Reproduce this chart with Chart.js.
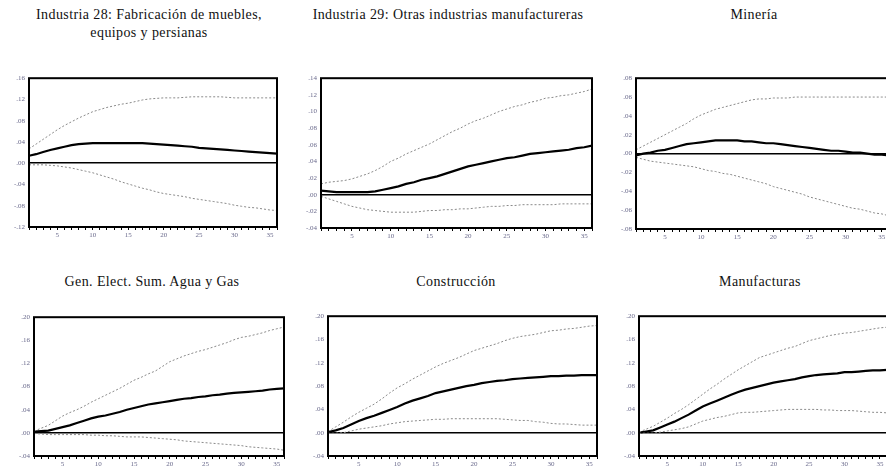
<!DOCTYPE html>
<html><head><meta charset="utf-8">
<script src="https://cdn.jsdelivr.net/npm/chart.js@4"></script>
<style>
html,body{margin:0;padding:0;background:#fff;width:886px;height:468px;overflow:hidden;position:relative}
canvas{position:absolute}
.t{position:absolute;font-family:"Liberation Serif","Times New Roman",serif;font-size:14px;letter-spacing:0.4px;color:#111;text-align:center;white-space:nowrap;line-height:18px;transform:translateX(-50%)}
</style></head><body>
<script>
// ---------- DATA ----------
const periods = [1,2,3,4,5,6,7,8,9,10,11,12,13,14,15,16,17,18,19,20,21,22,23,24,25,26,27,28,29,30,31,32,33,34,35,36];
const panelTitles = [
  ["Industria 28: Fabricación de muebles,", "equipos y persianas"],
  ["Industria 29: Otras industrias manufactureras"],
  ["Minería"],
  ["Gen. Elect. Sum. Agua y Gas"],
  ["Construcción"],
  ["Manufacturas"]
];
// y-axis ranges [min, max, step]
const yMins  = [-0.12, -0.04, -0.08, -0.04, -0.04, -0.04];
const yMaxs  = [ 0.16,  0.14,  0.08,  0.20,  0.20,  0.20];
const ySteps = [ 0.04,  0.02,  0.02,  0.04,  0.04,  0.04];
const xTickLabels = [5,10,15,20,25,30,35];

const ind28Mean  = [0.014,0.017,0.021,0.025,0.028,0.031,0.034,0.036,0.037,0.038,0.038,0.038,0.038,0.038,0.038,0.038,0.038,0.037,0.036,0.035,0.034,0.033,0.032,0.031,0.029,0.028,0.027,0.026,0.025,0.024,0.023,0.022,0.021,0.020,0.019,0.018];
const ind28Upper = [0.027,0.036,0.045,0.054,0.063,0.071,0.078,0.085,0.091,0.097,0.101,0.105,0.108,0.111,0.113,0.116,0.119,0.121,0.122,0.123,0.123,0.123,0.124,0.125,0.125,0.125,0.125,0.125,0.124,0.123,0.123,0.123,0.123,0.123,0.123,0.123];
const ind28Lower = [-0.003,-0.003,-0.003,-0.004,-0.005,-0.007,-0.009,-0.012,-0.015,-0.018,-0.022,-0.026,-0.030,-0.035,-0.039,-0.043,-0.047,-0.050,-0.054,-0.057,-0.059,-0.061,-0.063,-0.066,-0.068,-0.070,-0.072,-0.074,-0.076,-0.079,-0.081,-0.083,-0.084,-0.086,-0.088,-0.089];

const ind29Mean  = [0.005,0.004,0.003,0.003,0.003,0.003,0.003,0.004,0.006,0.008,0.010,0.013,0.015,0.018,0.020,0.022,0.025,0.028,0.031,0.034,0.036,0.038,0.040,0.042,0.044,0.045,0.047,0.049,0.050,0.051,0.052,0.053,0.054,0.056,0.057,0.059];
const ind29Upper = [0.013,0.015,0.016,0.017,0.019,0.022,0.025,0.029,0.034,0.040,0.044,0.049,0.053,0.057,0.061,0.066,0.071,0.076,0.080,0.085,0.089,0.092,0.096,0.100,0.103,0.106,0.108,0.111,0.113,0.116,0.117,0.119,0.120,0.122,0.124,0.127];
const ind29Lower = [-0.002,-0.005,-0.008,-0.011,-0.014,-0.016,-0.018,-0.019,-0.020,-0.021,-0.021,-0.021,-0.021,-0.020,-0.019,-0.019,-0.018,-0.018,-0.017,-0.017,-0.016,-0.015,-0.014,-0.014,-0.013,-0.013,-0.012,-0.012,-0.012,-0.012,-0.012,-0.011,-0.011,-0.011,-0.011,-0.011];

const mineriaMean  = [-0.002,0.000,0.001,0.003,0.004,0.006,0.008,0.010,0.011,0.012,0.013,0.014,0.014,0.014,0.014,0.013,0.013,0.012,0.011,0.011,0.010,0.009,0.008,0.007,0.006,0.005,0.004,0.003,0.003,0.002,0.001,0.001,0.000,-0.001,-0.001,-0.002];
const mineriaUpper = [0.004,0.008,0.012,0.016,0.020,0.024,0.028,0.032,0.037,0.041,0.044,0.047,0.049,0.051,0.053,0.055,0.057,0.058,0.058,0.059,0.059,0.059,0.060,0.060,0.060,0.060,0.060,0.060,0.060,0.060,0.060,0.060,0.060,0.060,0.060,0.060];
const mineriaLower = [-0.004,-0.006,-0.008,-0.009,-0.010,-0.011,-0.012,-0.013,-0.014,-0.016,-0.018,-0.019,-0.021,-0.022,-0.024,-0.026,-0.028,-0.030,-0.032,-0.035,-0.037,-0.039,-0.041,-0.043,-0.046,-0.048,-0.050,-0.052,-0.054,-0.056,-0.058,-0.059,-0.061,-0.063,-0.064,-0.066];

const electMean  = [0.002,0.003,0.004,0.007,0.010,0.013,0.017,0.021,0.025,0.028,0.030,0.033,0.036,0.040,0.043,0.046,0.049,0.051,0.053,0.055,0.057,0.059,0.060,0.062,0.063,0.065,0.066,0.068,0.069,0.070,0.071,0.072,0.073,0.075,0.076,0.077];
const electUpper = [0.003,0.008,0.013,0.021,0.029,0.035,0.040,0.046,0.053,0.059,0.065,0.071,0.077,0.084,0.091,0.096,0.102,0.107,0.115,0.123,0.128,0.133,0.137,0.141,0.144,0.148,0.152,0.156,0.161,0.165,0.167,0.170,0.173,0.177,0.180,0.183];
const electLower = [-0.001,-0.002,-0.003,-0.003,-0.003,-0.003,-0.003,-0.003,-0.004,-0.004,-0.005,-0.005,-0.006,-0.007,-0.007,-0.007,-0.008,-0.009,-0.010,-0.011,-0.012,-0.014,-0.015,-0.016,-0.017,-0.018,-0.019,-0.020,-0.021,-0.022,-0.024,-0.025,-0.026,-0.027,-0.028,-0.030];

const construMean  = [0.001,0.004,0.008,0.014,0.020,0.025,0.029,0.034,0.039,0.044,0.050,0.055,0.059,0.063,0.068,0.071,0.074,0.077,0.080,0.082,0.085,0.087,0.089,0.090,0.092,0.093,0.094,0.095,0.096,0.097,0.097,0.098,0.098,0.099,0.099,0.099];
const construUpper = [0.002,0.010,0.018,0.027,0.035,0.042,0.049,0.058,0.068,0.077,0.084,0.092,0.099,0.106,0.113,0.119,0.124,0.129,0.135,0.141,0.145,0.149,0.153,0.158,0.162,0.165,0.167,0.169,0.172,0.175,0.176,0.178,0.179,0.181,0.183,0.184];
const construLower = [-0.001,-0.001,0.000,0.003,0.006,0.008,0.010,0.012,0.015,0.017,0.019,0.020,0.021,0.022,0.023,0.023,0.024,0.024,0.024,0.024,0.024,0.024,0.024,0.023,0.022,0.021,0.021,0.019,0.018,0.016,0.015,0.015,0.014,0.013,0.013,0.013];

const manufMean  = [0.000,0.002,0.004,0.009,0.014,0.019,0.025,0.031,0.038,0.045,0.050,0.055,0.060,0.065,0.070,0.074,0.077,0.080,0.083,0.086,0.088,0.090,0.092,0.095,0.097,0.099,0.100,0.101,0.102,0.104,0.104,0.105,0.106,0.107,0.107,0.108];
const manufUpper = [0.001,0.006,0.011,0.018,0.025,0.033,0.040,0.048,0.057,0.066,0.075,0.083,0.092,0.100,0.108,0.115,0.122,0.129,0.133,0.137,0.141,0.145,0.148,0.153,0.158,0.161,0.164,0.167,0.169,0.171,0.172,0.174,0.176,0.178,0.180,0.181];
const manufLower = [-0.001,-0.001,-0.001,0.001,0.003,0.005,0.007,0.010,0.015,0.020,0.023,0.026,0.028,0.031,0.034,0.035,0.035,0.036,0.037,0.038,0.039,0.040,0.040,0.040,0.040,0.040,0.039,0.039,0.038,0.038,0.038,0.037,0.036,0.035,0.035,0.034];

const panelSeries = [
  [ind28Mean, ind28Upper, ind28Lower],
  [ind29Mean, ind29Upper, ind29Lower],
  [mineriaMean, mineriaUpper, mineriaLower],
  [electMean, electUpper, electLower],
  [construMean, construUpper, construLower],
  [manufMean, manufUpper, manufLower]
];

// ---------- LAYOUT ----------
const plotBoxes = [
  {l:29, t:73, r:277, b:227},
  {l:321,t:73, r:592, b:228},
  {l:636,t:73, r:889, b:229},
  {l:34, t:312,r:284, b:456},
  {l:328,t:311,r:597, b:456},
  {l:639,t:311,r:887, b:456}
];
const titlePos = [
  {x:149,y:6},{x:448,y:6},{x:754,y:6},
  {x:152,y:273},{x:456,y:273},{x:760,y:273}
];
const Y_AXIS_W = 28, X_AXIS_H = 14, PAD = 3;

function fmt(v){
  const s = Math.abs(v).toFixed(2).replace(/^0/, '');
  return (v < -1e-9 ? '-' : '') + s;
}

const framePlugin = {
  id:'frame',
  afterDatasetsDraw(chart){
    const {ctx, chartArea:a} = chart;
    ctx.save();
    ctx.strokeStyle = '#000';
    ctx.lineWidth = 2;
    ctx.strokeRect(a.left, a.top, a.right - a.left, a.bottom - a.top);
    ctx.restore();
  }
};

panelTitles.forEach((lines, i) => {
  const d = document.createElement('div');
  d.className = 't';
  d.style.left = titlePos[i].x + 'px';
  d.style.top = titlePos[i].y + 'px';
  d.innerHTML = lines.join('<br>');
  document.body.appendChild(d);
});

panelSeries.forEach((series, i) => {
  const b = plotBoxes[i];
  const c = document.createElement('canvas');
  const w = (b.r - b.l) + Y_AXIS_W + PAD;
  const h = (b.b - b.t) + X_AXIS_H + PAD;
  c.width = w; c.height = h;
  c.style.left = (b.l - Y_AXIS_W) + 'px';
  c.style.top = (b.t - PAD) + 'px';
  c.style.width = w + 'px'; c.style.height = h + 'px';
  document.body.appendChild(c);
  const mk = arr => periods.map((p, k) => ({x:p, y:arr[k]}));
  new Chart(c, {
    type:'line',
    data:{ datasets:[
      {data:mk(series[1]), borderColor:'#8a8a8a', borderWidth:1, borderDash:[2,2], pointRadius:0, tension:0},
      {data:mk(series[2]), borderColor:'#8a8a8a', borderWidth:1, borderDash:[2,2], pointRadius:0, tension:0},
      {data:mk(series[0]), borderColor:'#000', borderWidth:2.2, pointRadius:0, tension:0}
    ]},
    options:{
      responsive:false, animation:false, devicePixelRatio:1,
      layout:{padding:{top:PAD, right:PAD, left:0, bottom:0}},
      plugins:{legend:{display:false}, tooltip:{enabled:false}, title:{display:false}},
      scales:{
        x:{
          type:'linear', min:1, max:36,
          afterFit(s){ s.height = X_AXIS_H; },
          afterBuildTicks(s){ s.ticks = periods.map(v => ({value:v})); },
          ticks:{autoSkip:false, maxRotation:0, padding:1, color:'#6a6a8c',
            font:{family:'"Liberation Serif", serif', size:7},
            callback:v => xTickLabels.includes(v) ? String(v) : ''},
          grid:{drawOnChartArea:false, tickLength:3, tickColor:'#000', tickWidth:1},
          border:{display:false}
        },
        y:{
          min:yMins[i], max:yMaxs[i],
          afterFit(s){ s.width = Y_AXIS_W; },
          ticks:{stepSize:ySteps[i], padding:4, color:'#6a6a8c',
            font:{family:'"Liberation Serif", serif', size:7},
            callback:v => fmt(v)},
          grid:{drawOnChartArea:true, drawTicks:false,
            color:ctx => (ctx.tick && Math.abs(ctx.tick.value) < 1e-9) ? '#000' : 'rgba(0,0,0,0)',
            lineWidth:ctx => (ctx.tick && Math.abs(ctx.tick.value) < 1e-9) ? 1.5 : 0},
          border:{display:false}
        }
      }
    },
    plugins:[framePlugin]
  });
});
</script>
</body></html>
